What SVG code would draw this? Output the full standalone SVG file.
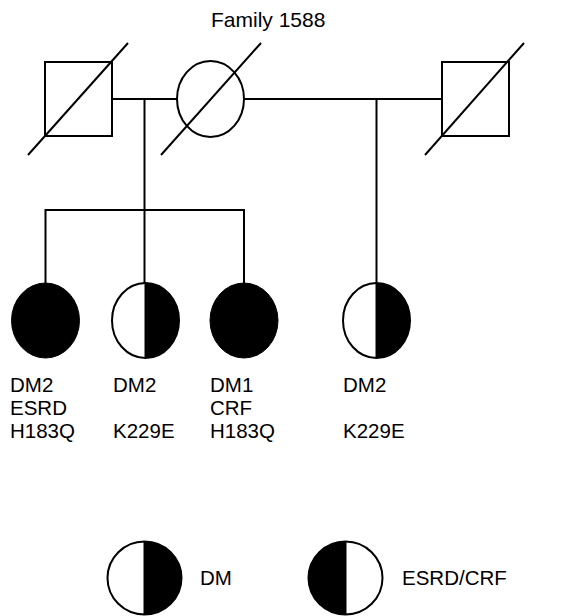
<svg xmlns="http://www.w3.org/2000/svg" width="583" height="616" viewBox="0 0 583 616">
<style>
.ln{stroke:#000;stroke-width:2;fill:none}
.sym{stroke:#000;stroke-width:2;fill:#fff}
.blk{fill:#000;stroke:none}
text{font-family:"Liberation Sans",Arial,sans-serif;font-size:20.5px;fill:#000}
</style>
<rect width="583" height="616" fill="#fff"/>
<text x="211" y="27" style="font-size:21px">Family 1588</text>
<g id="connectors">
<path class="ln" d="M112 99H177M244 99H442"/>
<path class="ln" d="M144.5 99V283"/>
<path class="ln" d="M376.5 99V283"/>
<path class="ln" d="M45.5 283V210H244V283"/>
</g>
<g id="father1">
<rect class="sym" x="45" y="62" width="67" height="74"/>
<line class="ln" x1="28" y1="155" x2="128" y2="43"/>
</g>
<g id="mother">
<ellipse class="sym" cx="210.5" cy="99" rx="33.5" ry="38"/>
<line class="ln" x1="161" y1="155" x2="261" y2="43"/>
</g>
<g id="father2">
<rect class="sym" x="442" y="62" width="67" height="74"/>
<line class="ln" x1="425" y1="155" x2="524" y2="43"/>
</g>
<g id="child1">
<ellipse cx="45.5" cy="320.5" rx="34" ry="37.5" fill="#000" stroke="#000" stroke-width="1"/>
<text x="10" y="392">DM2</text>
<text x="10" y="415">ESRD</text>
<text x="10" y="438">H183Q</text>
</g>
<g id="child2">
<ellipse class="sym" cx="145.5" cy="320.5" rx="33.5" ry="37.5"/>
<path class="blk" d="M145.5 283A33.5 37.5 0 0 1 145.5 358Z"/>
<line class="ln" x1="145.5" y1="283" x2="145.5" y2="358"/>
<text x="113" y="392">DM2</text>
<text x="113" y="438">K229E</text>
</g>
<g id="child3">
<ellipse cx="244" cy="320.5" rx="34" ry="37.5" fill="#000" stroke="#000" stroke-width="1"/>
<text x="210" y="392">DM1</text>
<text x="210" y="415">CRF</text>
<text x="210" y="438">H183Q</text>
</g>
<g id="child4">
<ellipse class="sym" cx="376.5" cy="320.5" rx="33.5" ry="37.5"/>
<path class="blk" d="M376.5 283A33.5 37.5 0 0 1 376.5 358Z"/>
<line class="ln" x1="376.5" y1="283" x2="376.5" y2="358"/>
<text x="343" y="392">DM2</text>
<text x="343" y="438">K229E</text>
</g>
<g id="legend-dm">
<ellipse class="sym" cx="144.5" cy="578" rx="37" ry="36.5"/>
<path class="blk" d="M144.5 541.5A37 36.5 0 0 1 144.5 614.5Z"/>
<line class="ln" x1="144.5" y1="541.5" x2="144.5" y2="614.5"/>
<text x="200" y="585">DM</text>
</g>
<g id="legend-esrd">
<ellipse class="sym" cx="345.5" cy="578" rx="37" ry="36.5"/>
<path class="blk" d="M345.5 541.5A37 36.5 0 0 0 345.5 614.5Z"/>
<line class="ln" x1="345.5" y1="541.5" x2="345.5" y2="614.5"/>
<text x="402" y="585">ESRD/CRF</text>
</g>
</svg>
